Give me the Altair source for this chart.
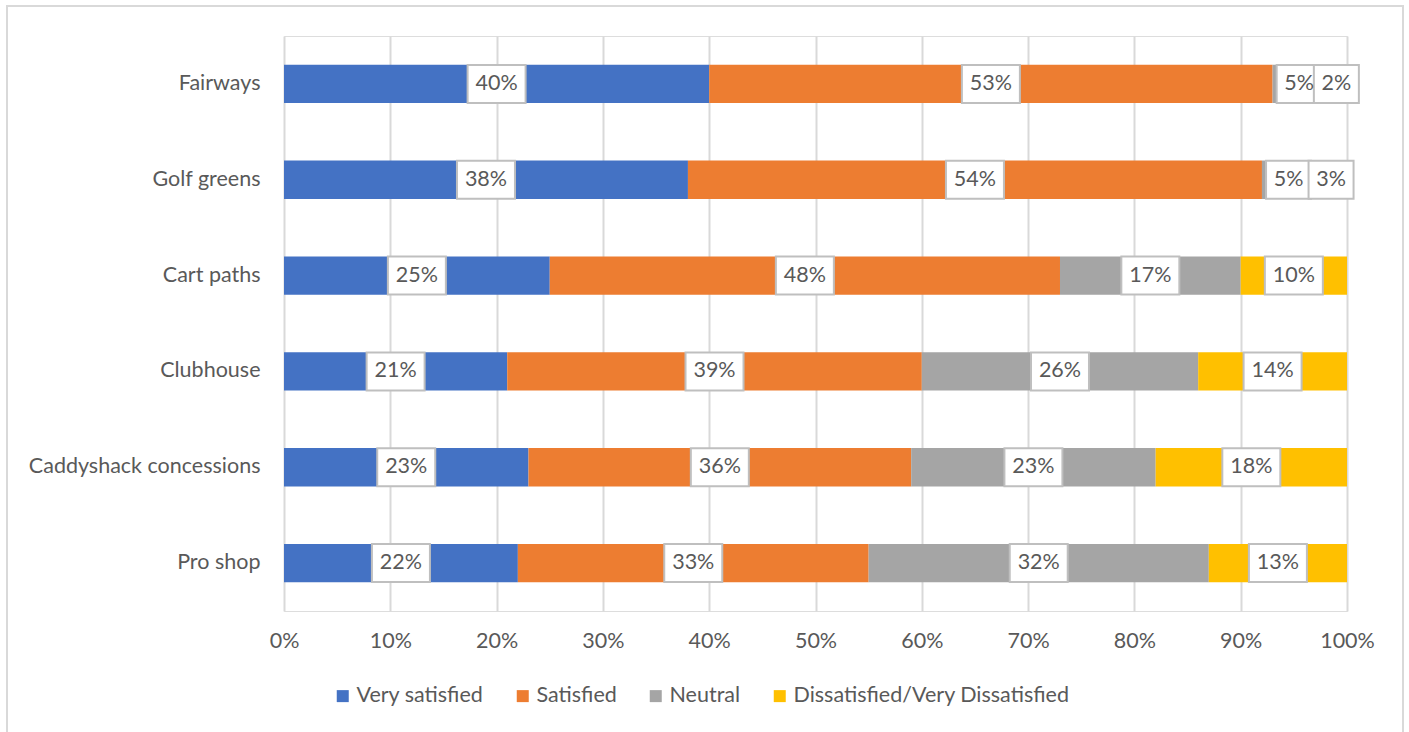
import altair as alt
import pandas as pd

categories = ["Fairways", "Golf greens", "Cart paths", "Clubhouse",
              "Caddyshack concessions", "Pro shop"]
series = ["Very satisfied", "Satisfied", "Neutral", "Dissatisfied/Very Dissatisfied"]
very_satisfied = [40, 38, 25, 21, 23, 22]
satisfied = [53, 54, 48, 39, 36, 33]
neutral = [5, 5, 17, 26, 23, 32]
dissatisfied = [2, 3, 10, 14, 18, 13]
colors = ["#4472C4", "#ED7D31", "#A5A5A5", "#FFC000"]
tick_values = [0, 0.1, 0.2, 0.3, 0.4, 0.5, 0.6, 0.7, 0.8, 0.9, 1.0]

rows = []
for i, c in enumerate(categories):
    for j, (s, vals) in enumerate(zip(series, [very_satisfied, satisfied, neutral, dissatisfied])):
        lab = f"{vals[i]}%"
        rows.append({"category": c, "series": s, "order": j,
                     "value": vals[i] / 100, "label": lab, "nchar": str(len(lab))})
df = pd.DataFrame(rows)

FONT = "Lato"
TXT = "#595959"
FS = 21.5

base = alt.Chart(df).transform_stack(
    stack="value", groupby=["category"],
    sort=[alt.SortField(field="order", order="ascending")],
    as_=["x0", "x1"],
).transform_calculate(mid="(datum.x0 + datum.x1) / 2")

y_enc = alt.Y("category:N", sort=categories,
              scale=alt.Scale(paddingInner=0.6, paddingOuter=0.3),
              axis=alt.Axis(title=None, ticks=False, domain=False, labelPadding=24,
                            labelFontSize=FS, labelColor=TXT, labelFont=FONT, labelLimit=400))

x_scale = alt.Scale(domain=[0, 1], nice=False)

bars = base.mark_bar().encode(
    x=alt.X("x0:Q", scale=x_scale,
            axis=alt.Axis(format=".0%", values=tick_values, title=None, ticks=False,
                          domain=False, grid=True, gridColor="#D9D9D9", gridWidth=2,
                          labelPadding=19, labelFontSize=FS, labelColor=TXT, labelFont=FONT,
                          labelFlush=False, labelOverlap=False)),
    x2="x1:Q",
    y=y_enc,
    color=alt.Color("series:N", scale=alt.Scale(domain=series, range=colors),
                    legend=alt.Legend(title=None, orient="none", legendX=48, legendY=649,
                                      direction="horizontal", symbolType="square",
                                      symbolSize=144, symbolStrokeWidth=0,
                                      labelFontSize=FS, labelColor=TXT, labelFont=FONT,
                                      columnPadding=28, labelOffset=3, labelLimit=400)),
)

p3 = "M-1,-0.655L1,-0.655L1,0.655L-1,0.655Z"
p2 = "M-0.776,-0.655L0.776,-0.655L0.776,0.655L-0.776,0.655Z"

boxes = base.mark_point(filled=True, fill="white", stroke="#BFBFBF", strokeWidth=2,
                        opacity=1, size=3364).encode(
    x=alt.X("mid:Q", scale=x_scale),
    y=alt.Y("category:N", sort=categories),
    shape=alt.Shape("nchar:N", scale=alt.Scale(domain=["2", "3"], range=[p2, p3]), legend=None),
)

labels = base.mark_text(fontSize=FS, color=TXT, font=FONT).encode(
    x=alt.X("mid:Q", scale=x_scale),
    y=alt.Y("category:N", sort=categories),
    text="label:N",
)

frame = alt.Chart(alt.Data(values=[{"a": 1}])).mark_rect(
    fillOpacity=0, stroke="#D9D9D9", strokeWidth=2
).encode(x=alt.value(-277), x2=alt.value(1119), y=alt.value(-30), y2=alt.value(720))

chart = alt.layer(frame, bars, boxes, labels).properties(
    width=1063, height=575,
    autosize=alt.AutoSizeParams(type="none"),
    padding={"left": 284, "top": 36, "right": 62, "bottom": 121},
).configure_view(stroke="transparent").configure(font=FONT)

chart.save("out.html", embed_options={"renderer": "svg", "actions": False})
